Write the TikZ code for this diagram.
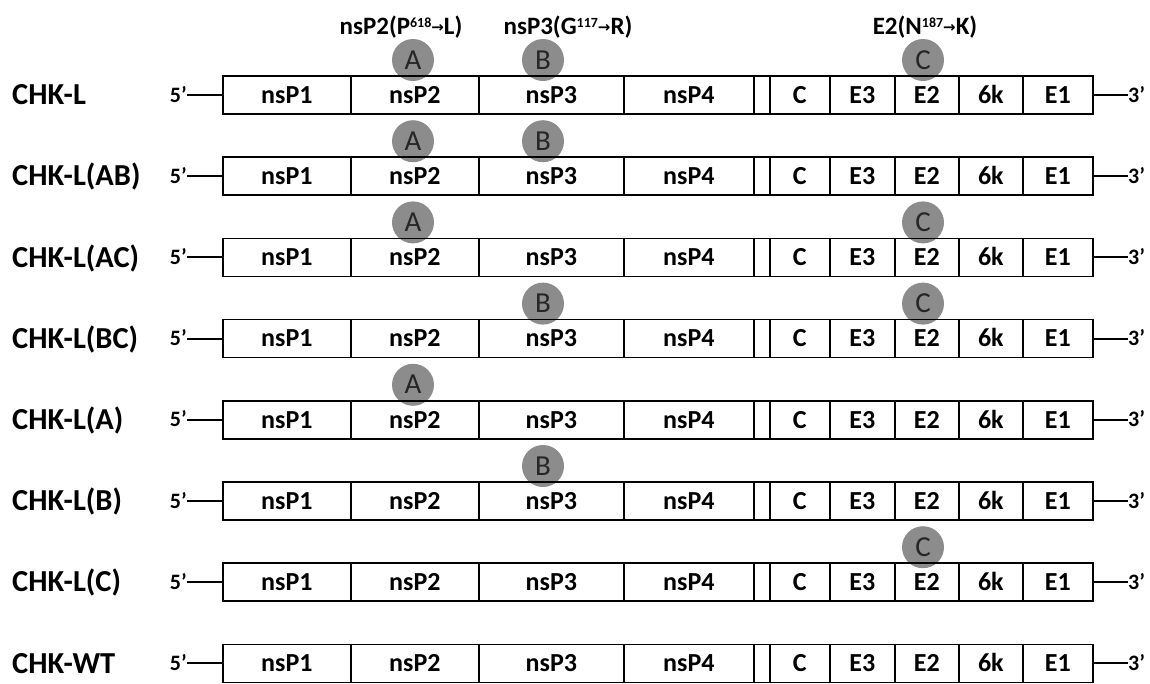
\documentclass[tikz,border=0pt]{standalone}
\usepackage{fontspec}
\setmainfont{Carlito}
\newfontfamily\arrowfont{DejaVu Sans}
\newcommand{\ar}{{\arrowfont\fontsize{15}{15}\selectfont\raisebox{1.5pt}{→}}}
\newcommand{\sups}[1]{\raisebox{7pt}{\fontsize{14}{14}\selectfont #1}}
\begin{document}
\begin{tikzpicture}[x=1pt,y=-1pt,
  seg/.style={draw, line width=1.7pt, minimum height=38pt, inner sep=0pt, anchor=west,
    text height=16.5pt, text depth=0pt,
    font=\bfseries\fontsize{26}{26}\selectfont},
  mut/.style={circle, fill=black!45, minimum size=42pt, inner sep=0pt,
    text height=18pt, text depth=0pt,
    font=\fontsize{29}{29}\selectfont, text=black!85},
  lab/.style={anchor=west, inner sep=0pt, text height=19.5pt, text depth=0pt,
    font=\bfseries\fontsize{30.5}{30.5}\selectfont},
  end/.style={inner sep=0pt, text height=14pt, text depth=0pt,
    font=\bfseries\fontsize{22}{22}\selectfont},
  ttl/.style={inner sep=0pt, font=\bfseries\fontsize{25}{25}\selectfont},
  wire/.style={line width=2pt}]
\useasboundingbox (0,0) rectangle (1150,683);

% titles
\node[ttl] (tA) at (401,27) {nsP2(P\sups{618}\ar L)};
\node[ttl] (tB) at (568,27) {nsP3(G\sups{117}\ar R)};
\node[ttl] (tC) at (925,27) {E2(N\sups{187}\ar K)};

% mutation circles (row top y = 76 + i*81.2; centre 16 above)
\foreach \r/\x/\l in {0/413/A,0/543/B,0/923/C,
                      1/413/A,1/543/B,
                      2/413/A,2/923/C,
                      3/543/B,3/923/C,
                      4/413/A,
                      5/543/B,
                      6/923/C}{
  \node[mut] (m\r\l) at (\x,{76+\r*81.2-16}) {\l};
}

% genomes
\foreach \name [count=\i from 0] in {CHK-L,CHK-L(AB),CHK-L(AC),CHK-L(BC),CHK-L(A),CHK-L(B),CHK-L(C),CHK-WT}{
  \pgfmathsetmacro{\yc}{76+\i*81.2+19}
  \node[lab] (lab\i) at (12,\yc) {\name};
  \node[seg, minimum width=128pt] (s\i a) at (222,\yc) {nsP1};
  \node[seg, minimum width=128pt] (s\i b) at (350,\yc) {nsP2};
  \node[seg, minimum width=145pt] (s\i c) at (478,\yc) {nsP3};
  \node[seg, minimum width=130pt] (s\i d) at (623,\yc) {nsP4};
  \node[seg, minimum width=16pt]  (s\i e) at (753,\yc) {};
  \node[seg, minimum width=60pt]  (s\i f) at (769,\yc) {C};
  \node[seg, minimum width=65pt]  (s\i g) at (829,\yc) {E3};
  \node[seg, minimum width=64pt]  (s\i h) at (894,\yc) {E2};
  \node[seg, minimum width=64pt]  (s\i k) at (958,\yc) {6k};
  \node[seg, minimum width=70pt]  (s\i m) at (1022,\yc) {E1};
  \node[end, anchor=east] (p\i) at (187,\yc) {5’};
  \node[end, anchor=west] (q\i) at (1128,\yc) {3’};
  \draw[wire] (p\i.east) -- (s\i a.west);
  \draw[wire] (s\i m.east) -- (q\i.west);
}
\end{tikzpicture}
\end{document}
